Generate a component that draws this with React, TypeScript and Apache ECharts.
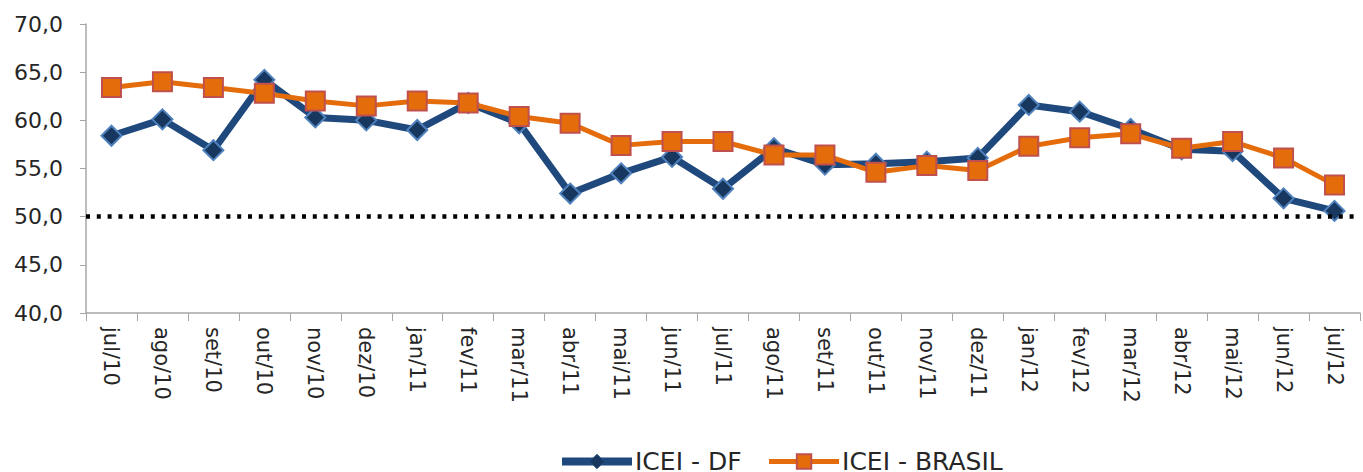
import React, { useEffect, useRef } from "react";
import * as echarts from "echarts";

const categories = [
  "jul/10", "ago/10", "set/10", "out/10", "nov/10", "dez/10",
  "jan/11", "fev/11", "mar/11", "abr/11", "mai/11", "jun/11",
  "jul/11", "ago/11", "set/11", "out/11", "nov/11", "dez/11",
  "jan/12", "fev/12", "mar/12", "abr/12", "mai/12", "jun/12", "jul/12",
];

const iceiDF = [
  58.4, 60.1, 56.9, 64.2, 60.3, 60.0,
  59.0, 61.8, 59.7, 52.4, 54.5, 56.2,
  52.9, 57.1, 55.4, 55.5, 55.7, 56.1,
  61.6, 60.9, 59.1, 57.0, 56.8, 51.9, 50.6,
];

const iceiBrasil = [
  63.4, 64.0, 63.4, 62.8, 62.0, 61.5,
  62.0, 61.8, 60.4, 59.7, 57.4, 57.8,
  57.8, 56.4, 56.4, 54.6, 55.3, 54.8,
  57.3, 58.2, 58.6, 57.1, 57.8, 56.1, 53.3,
];

const threshold = 50;
const seriesNames = ["ICEI - DF", "ICEI - BRASIL"];

export default function App() {
  const ref = useRef<HTMLDivElement>(null);

  useEffect(() => {
    if (!ref.current) return;
    const chart = echarts.init(ref.current, undefined, { renderer: "svg" });
    const font = "DejaVu Sans";
    chart.setOption({
      animation: false,
      backgroundColor: "#ffffff",
      grid: { left: 86, right: 3, top: 24, bottom: 159, containLabel: false },
      legend: {
        top: 449,
        left: 558,
        padding: 0,
        itemWidth: 70,
        itemHeight: 18,
        itemGap: 25,
        data: [
          {
            name: seriesNames[0],
            lineStyle: { width: 8, color: "#1f497d" },
            itemStyle: { color: "#17375e", borderColor: "#1f497d", borderWidth: 1 },
          },
          {
            name: seriesNames[1],
            lineStyle: { width: 5, color: "#e46c0a" },
          },
        ],
        textStyle: { fontFamily: font, fontSize: 25, color: "#262626", padding: [0, 0, 0, -2] },
      },
      xAxis: {
        type: "category",
        data: categories,
        boundaryGap: true,
        axisLine: { lineStyle: { color: "#a6a6a6", width: 1.5 } },
        axisTick: { show: true, length: 8, lineStyle: { color: "#a6a6a6" } },
        axisLabel: {
          rotate: -90,
          interval: 0,
          margin: 14,
          fontFamily: font,
          fontSize: 21,
          color: "#262626",
        },
        splitLine: { show: false },
      },
      yAxis: {
        type: "value",
        min: 40,
        max: 70,
        interval: 5,
        axisLine: { show: true, lineStyle: { color: "#a6a6a6", width: 1.5 } },
        axisTick: { show: true, length: 6, lineStyle: { color: "#a6a6a6" } },
        axisLabel: {
          fontFamily: font,
          fontSize: 22,
          color: "#262626",
          margin: 23,
          formatter: (v: number) => v.toFixed(1).replace(".", ","),
        },
        splitLine: { show: false },
      },
      series: [
        {
          name: seriesNames[0],
          type: "line",
          data: iceiDF,
          symbol: "diamond",
          symbolSize: 20,
          lineStyle: { color: "#1f497d", width: 7 },
          itemStyle: { color: "#17375e", borderColor: "#4f81bd", borderWidth: 2 },
          z: 3,
          markLine: {
            silent: true,
            symbol: "none",
            label: { show: false },
            lineStyle: { color: "#000000", width: 4.5, type: [4, 6.8] },
            data: [{ yAxis: threshold }],
          },
        },
        {
          name: seriesNames[1],
          type: "line",
          data: iceiBrasil,
          symbol: "rect",
          symbolSize: 19,
          lineStyle: { color: "#e46c0a", width: 5 },
          itemStyle: { color: "#e46c0a", borderColor: "#c0504d", borderWidth: 2 },
          z: 4,
        },
      ],
    });
    return () => chart.dispose();
  }, []);

  return (
    <div
      ref={ref}
      style={{ position: "fixed", left: 0, top: 0, width: 1363, height: 472 }}
    />
  );
}
